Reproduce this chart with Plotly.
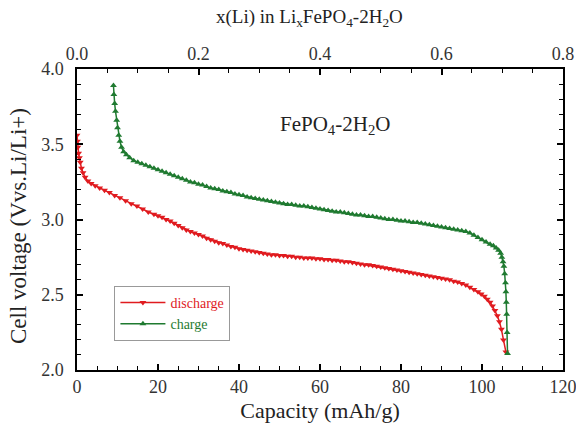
import plotly.graph_objects as go

# Discharge (red) capacity (mAh/g) and voltage (V)
dis_x = [0.0, 0.1, 0.2, 0.4, 0.6, 0.8, 1.1, 1.5, 2.0, 2.7, 3.5, 4.5, 5.6, 6.8, 8.0, 9.3,
         10.6, 12.0, 13.4, 14.8, 16.2, 17.6, 19.0,
         20, 21, 22, 23, 24, 25, 26, 27, 28, 29, 30, 31, 32, 33, 34, 35, 36, 37, 38, 39,
         40, 41, 42, 43, 44, 45, 46, 47, 48, 49, 50, 51, 52, 53, 54, 55, 56, 57, 58, 59,
         60, 61, 62, 63, 64, 65, 66, 67, 68, 69, 70, 71, 72, 73, 74, 75, 76, 77, 78, 79,
         80, 81, 82, 83, 84, 85, 86, 87, 88, 89, 90, 91, 92, 93, 94,
         95.0, 96.0, 97.0, 98.0, 99.0, 99.8, 100.6, 101.3, 102.0, 102.6, 103.2, 103.8,
         104.3, 104.8, 105.3, 105.9]
dis_y = [3.56, 3.52, 3.48, 3.44, 3.41, 3.38, 3.34, 3.31, 3.28, 3.255, 3.24, 3.225, 3.21, 3.195, 3.18, 3.16,
         3.145, 3.125, 3.105, 3.09, 3.07, 3.05, 3.035,
         3.025, 3.015, 3.00, 2.99, 2.975, 2.96, 2.945, 2.93, 2.92, 2.91, 2.90, 2.89, 2.875, 2.865, 2.855, 2.845, 2.84, 2.83, 2.82, 2.815,
         2.805, 2.80, 2.795, 2.79, 2.785, 2.78, 2.775, 2.77, 2.765, 2.765, 2.76, 2.76, 2.755, 2.755, 2.75, 2.75, 2.745, 2.745, 2.745, 2.74,
         2.74, 2.735, 2.735, 2.73, 2.73, 2.725, 2.72, 2.72, 2.715, 2.71, 2.705, 2.70, 2.70, 2.695, 2.69, 2.685, 2.68, 2.675, 2.67, 2.665,
         2.66, 2.655, 2.65, 2.645, 2.64, 2.635, 2.63, 2.625, 2.62, 2.615, 2.61, 2.605, 2.60, 2.59, 2.585,
         2.575, 2.565, 2.55, 2.535, 2.52, 2.505, 2.49, 2.47, 2.45, 2.425, 2.395, 2.36,
         2.32, 2.27, 2.20, 2.12]

# Charge (green)
chg_x = [9.0, 9.1, 9.3, 9.5, 9.8, 10.0, 10.3, 10.6, 11.0, 11.5, 12.2, 13.0, 14.0, 15.0, 16.0,
         17.0, 18.0, 19.0,
         20, 21, 22, 23, 24, 25, 26, 27, 28, 29, 30, 31, 32, 33, 34, 35, 36, 37, 38, 39,
         40, 41, 42, 43, 44, 45, 46, 47, 48, 49, 50, 51, 52, 53, 54, 55, 56, 57, 58, 59,
         60, 61, 62, 63, 64, 65, 66, 67, 68, 69, 70, 71, 72, 73, 74, 75, 76, 77, 78, 79,
         80, 81, 82, 83, 84, 85, 86, 87, 88, 89, 90, 91, 92, 93, 94,
         95.0, 96.0, 97.0, 98.0, 99.0, 100.0, 101.0, 102.0, 102.8, 103.5, 104.1, 104.6,
         104.9, 105.2, 105.4, 105.6, 105.8, 105.9, 106.0, 106.1, 106.2, 106.3]
chg_y = [3.89, 3.83, 3.77, 3.72, 3.66, 3.61, 3.56, 3.52, 3.48, 3.45, 3.43, 3.41, 3.39, 3.38, 3.37,
         3.36, 3.35, 3.34,
         3.33, 3.32, 3.31, 3.30, 3.29, 3.28, 3.27, 3.26, 3.25, 3.245, 3.235, 3.23, 3.22, 3.21, 3.205, 3.20, 3.19, 3.185, 3.18, 3.17,
         3.165, 3.16, 3.15, 3.145, 3.14, 3.135, 3.13, 3.125, 3.12, 3.115, 3.11, 3.105, 3.10, 3.10, 3.095, 3.09, 3.09, 3.085, 3.08, 3.075,
         3.07, 3.065, 3.06, 3.055, 3.05, 3.05, 3.045, 3.04, 3.035, 3.03, 3.03, 3.025, 3.02, 3.02, 3.015, 3.01, 3.005, 3.0, 3.0, 2.995,
         2.99, 2.99, 2.985, 2.98, 2.98, 2.975, 2.97, 2.965, 2.96, 2.955, 2.95, 2.945, 2.94, 2.935, 2.93,
         2.925, 2.92, 2.91, 2.895, 2.88, 2.865, 2.85, 2.835, 2.825, 2.81, 2.795, 2.775,
         2.75, 2.72, 2.69, 2.64, 2.58, 2.52, 2.45, 2.37, 2.25, 2.11]

x_ticks_bottom = [0, 20, 40, 60, 80, 100, 120]
x_ticks_top = [0.0, 0.2, 0.4, 0.6, 0.8]
y_ticks = [2.0, 2.5, 3.0, 3.5, 4.0]

RED = "#e01b1f"
GREEN = "#1f7a30"
FONT = "Liberation Serif"
TXT = "#222"

# page / plot-area geometry (pixels)
W, H = 576, 425
L, R, T, B = 77, 13, 69, 55
pw, ph = W - L - R, H - T - B


def px_to_paper(px, py):
    return (px - L) / pw, (H - B - py) / ph


fig = go.Figure()
fig.add_trace(go.Scatter(
    x=dis_x, y=dis_y, mode="lines+markers",
    name="<span style='color:%s'>discharge</span>" % RED,
    line=dict(color=RED, width=1.5),
    marker=dict(symbol="triangle-down", size=6, color=RED)))
fig.add_trace(go.Scatter(
    x=chg_x, y=chg_y, mode="lines+markers",
    name="<span style='color:%s'>charge</span>" % GREEN,
    line=dict(color=GREEN, width=1.5),
    marker=dict(symbol="triangle-up", size=6, color=GREEN)))
# dummy trace so the top axis is drawn
fig.add_trace(go.Scatter(x=[x_ticks_top[0], x_ticks_top[-1]], y=[None, None],
                         xaxis="x2", mode="markers", showlegend=False, hoverinfo="skip"))

axis_common = dict(showline=True, linecolor="black", linewidth=1.5,
                   ticks="inside", ticklen=6, tickwidth=1.5, tickcolor="black",
                   showgrid=False, zeroline=False, automargin=False,
                   ticklabeloverflow="allow",
                   tickfont=dict(family=FONT, size=18, color="#333"))

fig.update_layout(
    width=W, height=H,
    margin=dict(l=L, r=R, t=T, b=B),
    paper_bgcolor="white", plot_bgcolor="white",
    font=dict(family=FONT, color=TXT),
    xaxis=dict(range=[0, 120], tickvals=x_ticks_bottom,
               minor=dict(dtick=5, ticks="inside", ticklen=4, tickwidth=1.2, tickcolor="black"),
               title=dict(text="Capacity (mAh/g)", font=dict(family=FONT, size=22, color=TXT), standoff=6),
               **axis_common),
    xaxis2=dict(range=[0, 0.8], tickvals=x_ticks_top, tickformat=".1f",
                overlaying="x", side="top", anchor="y",
                minor=dict(dtick=0.05, ticks="inside", ticklen=4, tickwidth=1.2, tickcolor="black"),
                **axis_common),
    yaxis=dict(range=[2, 4], tickvals=y_ticks, tickformat=".1f", mirror="ticks",
               ticklabelstandoff=8,
               minor=dict(dtick=0.1, ticks="inside", ticklen=4, tickwidth=1.2, tickcolor="black"),
               **axis_common),
    legend=dict(x=0.077, y=0.279, xanchor="left", yanchor="top",
                bgcolor="white", bordercolor="#999", borderwidth=1,
                font=dict(family=FONT, size=14), itemwidth=45, tracegroupgap=0),
    showlegend=True,
)

# top axis title
tx, ty = px_to_paper(309, 18)
fig.add_annotation(text="x(Li) in Li<sub>x</sub>FePO<sub>4</sub>-2H<sub>2</sub>O",
                   x=tx, y=ty, xref="paper", yref="paper", xanchor="center", yanchor="middle",
                   showarrow=False, font=dict(family=FONT, size=19, color=TXT))
# y axis title
yx, yy = px_to_paper(18, 226)
fig.add_annotation(text="Cell voltage (Vvs.Li/Li+)", textangle=-90,
                   x=yx, y=yy, xref="paper", yref="paper", xanchor="center", yanchor="middle",
                   showarrow=False, font=dict(family=FONT, size=23, color=TXT))

fig.add_annotation(text="FePO<sub>4</sub>-2H<sub>2</sub>O", x=0.414, y=0.814,
                   xref="paper", yref="paper", xanchor="left", yanchor="middle",
                   showarrow=False, font=dict(family=FONT, size=21, color=TXT))

fig.write_html("out.html")
